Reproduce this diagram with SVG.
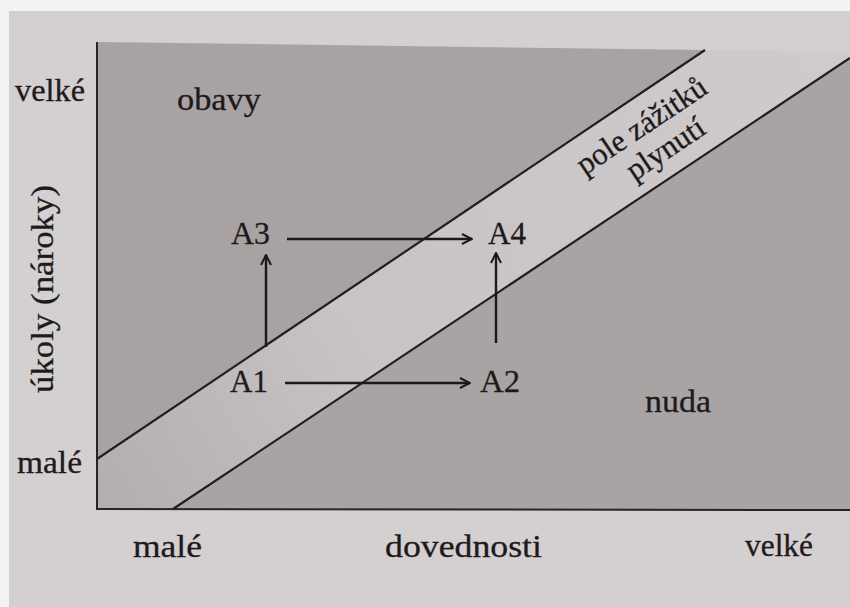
<svg xmlns="http://www.w3.org/2000/svg" width="850" height="607" viewBox="0 0 850 607">
<defs>
<style>
text{font-family:"Liberation Serif","Times New Roman",serif;fill:#1e1a1b;font-size:31px;stroke:#1e1a1b;stroke-width:0.3}
.lbl{font-size:32px}
.ax{stroke:#2a2223;stroke-width:2;fill:none}
.edge{stroke:#231d1e;stroke-width:2.2;fill:none}
.conn{stroke:#1e1819;stroke-width:2.4;fill:none;marker-end:url(#ah)}
</style>
<marker id="ah" viewBox="0 0 12 12" refX="11" refY="6" markerWidth="12" markerHeight="12" markerUnits="userSpaceOnUse" orient="auto">
<path d="M1,1 L11,6 L1,11" fill="none" stroke="#1e1819" stroke-width="2"/>
</marker>
<linearGradient id="bandg" x1="97" y1="509" x2="850" y2="55" gradientUnits="userSpaceOnUse">
<stop offset="0" stop-color="#b3adae"/>
<stop offset="0.35" stop-color="#c8c3c4"/>
<stop offset="1" stop-color="#cfcacb"/>
</linearGradient>
</defs>
<rect x="0" y="0" width="850" height="607" fill="#d4cfd0"/>
<rect x="0" y="0" width="850" height="11" fill="#f3f3f3"/>
<rect x="0" y="0" width="9" height="607" fill="#f3f3f3"/>
<g id="plot">
<polygon points="97,42 705,50 97,459" fill="#a8a2a3"/>
<polygon points="97,459 705,50 850,52 850,58 173,509 97,509" fill="url(#bandg)"/>
<polygon points="173,509 850,58 850,509" fill="#a9a3a4"/>
<line class="edge" x1="97" y1="459" x2="705" y2="50"/>
<line class="edge" x1="173" y1="509" x2="850" y2="58"/>
<line class="ax" x1="97" y1="42" x2="97" y2="509"/>
<line class="ax" x1="96" y1="509" x2="850" y2="510"/>
</g>
<g id="axis-labels">
<text x="15" y="101" textLength="70" lengthAdjust="spacingAndGlyphs">velké</text>
<text x="17" y="473" textLength="65" lengthAdjust="spacingAndGlyphs">malé</text>
<text x="133" y="557" textLength="69" lengthAdjust="spacingAndGlyphs">malé</text>
<text x="385" y="557" textLength="157" lengthAdjust="spacingAndGlyphs">dovednosti</text>
<text x="745" y="556" textLength="68" lengthAdjust="spacingAndGlyphs">velké</text>
<text transform="translate(53,289) rotate(-90)" text-anchor="middle" textLength="208" lengthAdjust="spacingAndGlyphs">úkoly (nároky)</text>
</g>
<g id="regions">
<text x="177" y="110" textLength="84" lengthAdjust="spacingAndGlyphs">obavy</text>
<text x="645" y="412" textLength="66" lengthAdjust="spacingAndGlyphs">nuda</text>
<text transform="translate(647,134) rotate(-33.8)" text-anchor="middle" font-size="29" textLength="150" lengthAdjust="spacingAndGlyphs">pole zážitků</text>
<text transform="translate(671,157) rotate(-33.8)" text-anchor="middle" font-size="29" textLength="88" lengthAdjust="spacingAndGlyphs">plynutí</text>
</g>
<g id="A1"><text class="lbl" x="230" y="392" textLength="38" lengthAdjust="spacingAndGlyphs">A1</text></g>
<g id="A2"><text class="lbl" x="480" y="392" textLength="40" lengthAdjust="spacingAndGlyphs">A2</text></g>
<g id="A3"><text class="lbl" x="231" y="244" textLength="39" lengthAdjust="spacingAndGlyphs">A3</text></g>
<g id="A4"><text class="lbl" x="488" y="244" textLength="38" lengthAdjust="spacingAndGlyphs">A4</text></g>
<g id="connectors">
<line class="conn" x1="287" y1="239" x2="472" y2="239"/>
<line class="conn" x1="285" y1="383" x2="470" y2="383"/>
<line class="conn" x1="266" y1="347" x2="266" y2="255"/>
<line class="conn" x1="496" y1="343" x2="496" y2="253"/>
</g>
</svg>
